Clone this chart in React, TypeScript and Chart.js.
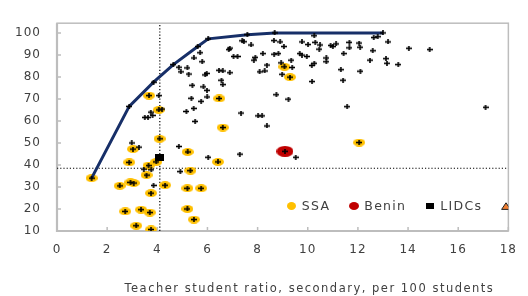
import React, { useEffect, useRef } from 'react';
import { Chart, registerables } from 'chart.js';

Chart.register(...registerables);

// ---- data ----
const xTicks = [0, 2, 4, 6, 8, 10, 12, 14, 16, 18];
const yTicks = [10, 20, 30, 40, 50, 60, 70, 80, 90, 100];
const xMin = 0;
const xMax = 18;
const yMin = 10;
const yMax = 104.4;

const frontierX = [1.38, 2.88, 3.85, 4.64, 5.61, 6.03, 7.59, 8.68, 13.0];
const frontierY = [34.0, 66.6, 77.6, 85.6, 93.8, 97.3, 99.2, 100.0, 100.0];

const ssaX = [3.67, 4.06, 4.09, 3.03, 5.21, 6.47, 6.61, 9.07, 9.29, 12.05, 2.88, 3.96, 3.65, 3.57, 1.38, 2.5, 2.93, 3.06, 4.31, 3.75, 2.72, 3.35, 3.7, 3.16, 3.75, 5.32, 5.2, 5.75, 5.2, 5.46, 6.42];
const ssaY = [71.5, 65.0, 51.9, 47.2, 45.9, 70.2, 57.0, 84.6, 79.9, 50.2, 41.2, 41.4, 39.7, 35.4, 34.0, 30.5, 32.1, 31.8, 30.8, 27.2, 18.9, 19.7, 18.4, 12.4, 10.7, 37.4, 29.4, 29.4, 20.0, 15.2, 41.4];

const otherX = [2.88, 3.85, 4.64, 5.61, 6.03, 7.59, 8.68, 13.0,
  4.06, 4.19, 3.74, 3.81, 3.5, 3.63, 2.98, 3.27, 4.86, 7.34, 7.29, 7.39, 7.45, 7.74, 6.89, 6.85,
  5.71, 8.21, 7.04, 7.2, 5.46, 7.91, 7.85, 8.66, 8.83, 5.79, 8.37, 4.86, 5.2, 4.94, 5.25, 6.46,
  6.61, 6.89, 5.97, 5.91, 8.08, 8.28, 6.56, 6.61, 5.4, 5.84, 5.98, 8.75, 5.99, 5.36, 5.75, 5.45,
  5.16, 8.02, 8.18, 5.51, 8.37, 10.26, 8.65, 8.9, 9.77, 10.01, 10.3, 10.49, 9.05, 10.46, 10.91,
  11.0, 11.13, 11.66, 12.05, 11.66, 12.09, 12.63, 12.79, 13.2, 12.59, 11.43, 9.68, 9.77, 9.96,
  9.34, 10.74, 10.74, 10.26, 10.16, 12.48, 13.12, 13.16, 9.38, 8.94, 8.98, 11.32, 12.1, 10.17,
  11.41, 9.23, 11.57, 14.03, 14.86, 13.61, 17.09, 9.52, 3.46, 3.76, 3.85, 6.03, 4.92];
const otherY = [66.6, 77.6, 85.6, 93.8, 97.3, 99.2, 100.0, 100.0,
  71.5, 65.4, 64.0, 62.5, 61.6, 61.6, 50.0, 48.1, 48.4, 63.6, 44.9, 96.4, 96.0, 94.5, 93.1, 92.4,
  91.0, 90.6, 89.3, 89.3, 88.6, 88.9, 87.6, 90.3, 90.6, 86.9, 85.4, 84.4, 84.1, 82.3, 81.3, 83.0,
  82.7, 81.9, 81.6, 80.9, 82.3, 82.7, 78.5, 76.5, 76.2, 75.5, 73.9, 71.9, 70.9, 70.3, 68.9, 65.7,
  64.3, 62.3, 62.3, 59.8, 57.7, 98.7, 96.5, 95.9, 95.9, 94.7, 95.7, 94.5, 93.8, 92.6, 94.3,
  93.8, 95.0, 95.7, 95.4, 93.2, 93.5, 97.9, 98.3, 95.9, 91.9, 90.6, 90.6, 89.9, 89.3,
  87.6, 88.6, 86.9, 86.2, 85.2, 87.6, 88.3, 86.2, 84.3, 86.4, 81.2, 83.3, 82.6, 77.9,
  78.5, 69.9, 66.5, 93.0, 92.4, 85.6, 66.2, 43.5, 38.1, 37.8, 30.7, 43.5, 37.0];

const beninX = [9.09];
const beninY = [46.2];
const lidcX = [4.09];
const lidcY = [43.2];

const refLineX = 4.1;
const refLineY = 38.5;

const seriesLabels = ['SSA', 'Benin', 'LIDCs', ''];
const xTitle = 'Teacher student ratio, secondary, per 100 students';

// ---- styles ----
const FONT = '"DejaVu Sans", "Open Sans", sans-serif';
const TEXT = '#404040';
const AXIS = '#BDBDBD';
const YELLOW = '#FFC000';
const RED = '#C00000';
const NAVY = '#172F68';
const ORANGE = '#ED7D31';

const pts = (xs: number[], ys: number[]) => xs.map((x, i) => ({ x, y: ys[i] }));

function makeCanvas(w: number, h: number, draw: (c: CanvasRenderingContext2D) => void) {
  const c = document.createElement('canvas');
  c.width = w;
  c.height = h;
  const ctx = c.getContext('2d')!;
  draw(ctx);
  return c;
}
const ellipse = (w: number, h: number, color: string) =>
  makeCanvas(w, h, (c) => {
    c.fillStyle = color;
    c.beginPath();
    c.ellipse(w / 2, h / 2, w / 2, h / 2, 0, 0, Math.PI * 2);
    c.fill();
  });
const plus = () =>
  makeCanvas(6, 5, (c) => {
    c.fillStyle = '#000';
    c.fillRect(0, 1.7, 6, 1.6);
    c.fillRect(2.2, 0, 1.6, 5);
  });
const rect = (w: number, h: number, color: string) =>
  makeCanvas(w, h, (c) => {
    c.fillStyle = color;
    c.fillRect(0, 0, w, h);
  });
const tri = (w: number, h: number) =>
  makeCanvas(w, h, (c) => {
    c.fillStyle = ORANGE;
    c.strokeStyle = '#222';
    c.lineWidth = 1;
    c.beginPath();
    c.moveTo(w / 2, 0.8);
    c.lineTo(w - 0.6, h - 0.6);
    c.lineTo(0.6, h - 0.6);
    c.closePath();
    c.fill();
    c.stroke();
  });

export default function App() {
  const ref = useRef<HTMLCanvasElement | null>(null);

  useEffect(() => {
    if (!ref.current) return;
    const yellowPt = ellipse(12, 8, YELLOW);
    const redPt = ellipse(17, 11, RED);
    const plusPt = plus();
    const sqPt = rect(9, 7, '#000');
    const legendMarkers = [ellipse(9, 8, YELLOW), ellipse(10, 8, RED), rect(8, 6, '#000'), tri(10, 8)];

    const framePlugin = {
      id: 'frame',
      beforeDraw(chart: any) {
        chart.ctx.letterSpacing = '1px';
      },
      beforeDatasetsDraw(chart: any) {
        const { ctx, chartArea: a, scales } = chart;
        ctx.save();
        ctx.strokeStyle = AXIS;
        ctx.lineWidth = 1.5;
        ctx.strokeRect(a.left, a.top, a.right - a.left, a.bottom - a.top);
        ctx.lineWidth = 2.2;
        ctx.beginPath();
        ctx.moveTo(a.left, a.top);
        ctx.lineTo(a.left, a.bottom);
        ctx.lineTo(a.right, a.bottom);
        ctx.stroke();
        ctx.lineWidth = 1.5;
        ctx.beginPath();
        xTicks.forEach((v) => {
          const px = scales.x.getPixelForValue(v);
          ctx.moveTo(px, a.bottom);
          ctx.lineTo(px, a.bottom - 4);
        });
        yTicks.forEach((v) => {
          const py = scales.y.getPixelForValue(v);
          ctx.moveTo(a.left, py);
          ctx.lineTo(a.left + 4, py);
        });
        ctx.stroke();
        ctx.restore();
      },
      afterDraw(chart: any) {
        const { ctx, chartArea: a } = chart;
        ctx.save();
        // axis title
        ctx.letterSpacing = '1.5px';
        ctx.font = `11.5px ${FONT}`;
        ctx.fillStyle = TEXT;
        ctx.textAlign = 'right';
        ctx.textBaseline = 'middle';
        ctx.fillText(xTitle, a.right - 14, 289);
        // legend inside plot, clipped by plot frame
        ctx.beginPath();
        ctx.rect(a.left, a.top, a.right - a.left, a.bottom - a.top);
        ctx.clip();
        ctx.letterSpacing = '1.3px';
        ctx.font = `12.5px ${FONT}`;
        ctx.textAlign = 'left';
        let x = a.left + 234.7;
        const y = a.bottom - 25;
        seriesLabels.forEach((lab, i) => {
          const m = legendMarkers[i];
          ctx.drawImage(m, Math.round(x - m.width / 2), Math.round(y - m.height / 2));
          ctx.fillText(lab, x + 10, y + 0.5);
          x += 10 + ctx.measureText(lab).width + 24;
        });
        ctx.restore();
      },
    };

    const chart = new Chart(ref.current, {
      type: 'scatter',
      data: {
        datasets: [
          {
            label: 'vline',
            data: [{ x: refLineX, y: yMin }, { x: refLineX, y: yMax }],
            showLine: true,
            borderColor: '#000',
            borderWidth: 1.2,
            borderDash: [1.2, 2],
            pointRadius: 0,
            order: 10,
          },
          {
            label: 'hline',
            data: [{ x: xMin, y: refLineY }, { x: xMax, y: refLineY }],
            showLine: true,
            borderColor: '#000',
            borderWidth: 1.2,
            borderDash: [1.2, 2],
            pointRadius: 0,
            order: 10,
          },
          {
            label: seriesLabels[0],
            data: pts(ssaX, ssaY),
            pointStyle: yellowPt as any,
            pointRadius: 3,
            order: 8,
          },
          {
            label: seriesLabels[1],
            data: pts(beninX, beninY),
            pointStyle: redPt as any,
            pointRadius: 3,
            order: 8,
          },
          {
            label: 'frontier',
            data: pts(frontierX, frontierY),
            showLine: true,
            borderColor: NAVY,
            borderWidth: 3,
            pointRadius: 0,
            order: 7,
          },
          {
            label: 'countries',
            data: [...pts(otherX, otherY), ...pts(ssaX, ssaY), ...pts(beninX, beninY)],
            pointStyle: plusPt as any,
            pointRadius: 2,
            order: 6,
          },
          {
            label: seriesLabels[2],
            data: pts(lidcX, lidcY),
            pointStyle: sqPt as any,
            pointRadius: 3,
            order: 5,
          },
          {
            label: seriesLabels[3],
            data: [],
            pointRadius: 3,
            order: 4,
          },
        ],
      },
      options: {
        animation: false,
        responsive: true,
        maintainAspectRatio: false,
        events: [],
        layout: { padding: { top: 8, right: 8, left: 0, bottom: 0 } },
        plugins: { legend: { display: false }, tooltip: { enabled: false } },
        scales: {
          x: {
            type: 'linear',
            min: xMin,
            max: xMax,
            grid: { display: false, drawTicks: false },
            border: { display: false },
            afterBuildTicks: (s: any) => {
              s.ticks = xTicks.map((v) => ({ value: v }));
            },
            afterFit: (s: any) => {
              s.height = 65;
            },
            ticks: {
              font: { family: FONT, size: 12 },
              color: TEXT,
              padding: 12,
              maxRotation: 0,
              autoSkip: false,
            },
          },
          y: {
            type: 'linear',
            min: yMin,
            max: yMax,
            grid: { display: false, drawTicks: false },
            border: { display: false },
            afterBuildTicks: (s: any) => {
              s.ticks = yTicks.map((v) => ({ value: v }));
            },
            afterFit: (s: any) => {
              s.width = 57;
            },
            ticks: {
              font: { family: FONT, size: 12 },
              color: TEXT,
              padding: 16,
              autoSkip: false,
            },
          },
        },
      },
      plugins: [framePlugin],
    } as any);
    return () => chart.destroy();
  }, []);

  return (
    <div style={{ position: 'fixed', left: 0, top: 0, width: 528, height: 296, background: '#fff' }}>
      <canvas ref={ref} />
    </div>
  );
}
